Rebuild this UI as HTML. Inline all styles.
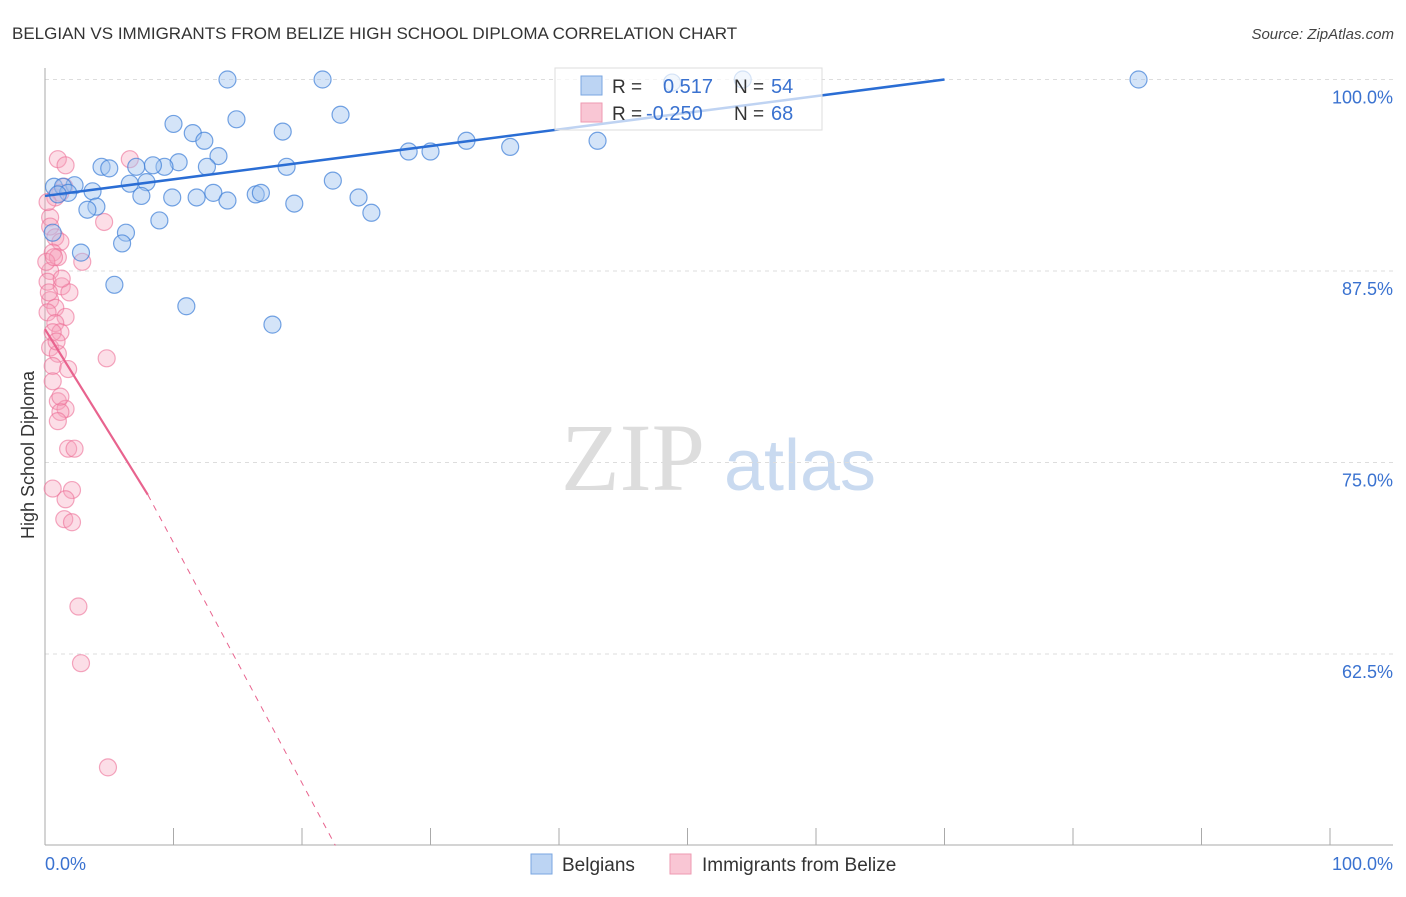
<!DOCTYPE html>
<html><head><meta charset="utf-8"><style>
body{margin:0;background:#fff;font-family:"Liberation Sans",sans-serif;}
</style></head><body>
<svg id="chart" width="1406" height="892" viewBox="0 0 1406 892" xmlns="http://www.w3.org/2000/svg" font-family="Liberation Sans, sans-serif">
<text x="12" y="39" font-size="17" fill="#333">BELGIAN VS IMMIGRANTS FROM BELIZE HIGH SCHOOL DIPLOMA CORRELATION CHART</text>
<text x="1394" y="39" font-size="15" fill="#444" text-anchor="end" font-style="italic">Source: ZipAtlas.com</text>
<text transform="translate(34,455) rotate(-90)" font-size="18" fill="#333" text-anchor="middle">High School Diploma</text>
<g>
<text x="633" y="490" font-size="96" fill="#ddd" font-family="Liberation Serif, serif" text-anchor="middle">ZIP</text>
<text x="800" y="490" font-size="72" fill="#c9daf0" text-anchor="middle">atlas</text>
</g>
<g id="grid"></g><g id="axes"></g><g id="pink"></g><g id="blue"></g><g id="trend"></g>
<g>
<rect x="555" y="68" width="267" height="62" fill="#fff" fill-opacity="0.7" stroke="#ddd"/>
<rect x="581" y="76" width="21" height="19" fill="#bcd4f3" stroke="#7aa6e0"/>
<rect x="581" y="103" width="21" height="19" fill="#f9c6d4" stroke="#ee9ab2"/>
<text x="612" y="93" font-size="19" fill="#333">R =</text>
<text x="663" y="93" font-size="20" fill="#3a72d0">0.517</text>
<text x="734" y="93" font-size="19" fill="#333">N =</text>
<text x="771" y="93" font-size="20" fill="#3a72d0">54</text>
<text x="612" y="120" font-size="19" fill="#333">R =</text>
<text x="646" y="120" font-size="20" fill="#3a72d0">-0.250</text>
<text x="734" y="120" font-size="19" fill="#333">N =</text>
<text x="771" y="120" font-size="20" fill="#3a72d0">68</text>
</g>
<g>
<rect x="531" y="854" width="21" height="20" fill="#bcd4f3" stroke="#7aa6e0"/>
<text x="562" y="871" font-size="19" fill="#333">Belgians</text>
<rect x="670" y="854" width="21" height="20" fill="#f9c6d4" stroke="#ee9ab2"/>
<text x="702" y="871" font-size="19" fill="#333">Immigrants from Belize</text>
</g>
</svg>
<script>
const yTicks=[100,87.5,75,62.5];
const yTickLabels=["100.0%","87.5%","75.0%","62.5%"];
const xTickLabels=["0.0%","100.0%"];
const blueX=[14.2,21.6,85.1,48.8,54.3,10.0,14.9,23.0,11.5,12.4,18.5,13.5,10.4,9.3,8.4,4.4,5.0,7.1,12.6,18.8,28.3,30.0,32.8,36.2,43.0,0.7,2.3,3.7,1.4,1.8,1.0,6.6,7.9,7.5,4.0,3.3,9.9,11.8,13.1,14.2,16.4,16.8,19.4,22.4,24.4,25.4,8.9,6.3,6.0,2.8,5.4,11.0,17.7,0.6];
const blueY=[100,100,100,99.8,100,97.1,97.4,97.7,96.5,96.0,96.6,95.0,94.6,94.3,94.4,94.3,94.2,94.3,94.3,94.3,95.3,95.3,96.0,95.6,96.0,93.0,93.1,92.7,93.0,92.6,92.5,93.2,93.3,92.4,91.7,91.5,92.3,92.3,92.6,92.1,92.5,92.6,91.9,93.4,92.3,91.3,90.8,90.0,89.3,88.7,86.6,85.2,84.0,90.0];
const pinkX=[1.0,1.6,6.6,1.5,1.2,0.8,0.4,0.4,4.6,0.8,1.2,0.6,1.0,2.9,0.4,0.2,1.3,1.9,0.4,0.8,0.2,1.6,0.8,1.2,0.4,1.0,4.8,0.6,1.8,0.6,1.0,1.6,1.2,1.0,1.8,2.3,0.6,2.1,1.6,1.5,2.1,2.6,2.8,4.9,0.2,0.1,0.3,0.6,0.9,1.2,0.7,1.3];
const pinkY=[94.8,94.4,94.8,93.0,92.6,92.3,91.0,90.4,90.7,89.7,89.4,88.7,88.4,88.1,87.5,86.8,86.5,86.1,85.6,85.1,84.8,84.5,84.1,83.5,82.5,82.1,81.8,81.3,81.1,80.3,79.0,78.5,78.3,77.7,75.9,75.9,73.3,73.2,72.6,71.3,71.1,65.6,61.9,55.1,92.0,88.1,86.1,83.5,82.9,79.3,88.4,87.0];
const blueTrend=[[0,92.4],[70,100]];
const pinkSolid=[[0,83.7],[8,72.9]];
const pinkDash=[[8,72.9],[22.6,50]];
const NS="http://www.w3.org/2000/svg";
const X=p=>45+p*12.85, Y=v=>79.5+(100-v)*15.32;
function mk(tag,attrs,parent){const e=document.createElementNS(NS,tag);for(const k in attrs)e.setAttribute(k,attrs[k]);document.getElementById(parent).appendChild(e);return e;}
yTicks.forEach((t,i)=>{
 const l=mk('line',{x1:45,x2:1393,y1:Y(t),y2:Y(t),stroke:'#ddd','stroke-dasharray':'4,4'},'grid');
 
 
 const tx=mk('text',{x:1393,y:Y(t)+24,'font-size':18,fill:'#3a72d0','text-anchor':'end'},'grid');
 tx.textContent=yTickLabels[i];
 
 
});
const ax=mk('line',{x1:45,x2:1393,y1:845,y2:845,stroke:'#aaa'},'axes');


const ay=mk('line',{x1:45,x2:45,y1:68,y2:845,stroke:'#aaa'},'axes');


for(let i=0;i<=10;i++){const t=mk('line',{x1:X(i*10),x2:X(i*10),y1:828,y2:845,stroke:'#aaa'},'axes');
 
 }
[[0,'start',45],[100,'end',1393]].forEach((d,i)=>{const t=mk('text',{x:d[2],y:870,'font-size':18,fill:'#3a72d0','text-anchor':d[1]},'axes');t.textContent=xTickLabels[i];
 
 });
pinkX.forEach((x,i)=>{const c=mk('circle',{cx:X(x),cy:Y(pinkY[i]),r:8.5,fill:'rgba(246,160,186,0.35)',stroke:'rgba(236,110,150,0.6)','stroke-width':1.2},'pink');
 
 });
blueX.forEach((x,i)=>{const c=mk('circle',{cx:X(x),cy:Y(blueY[i]),r:8.5,fill:'rgba(160,196,240,0.45)',stroke:'rgba(60,125,215,0.7)','stroke-width':1.2},'blue');
 
 });
const bt=mk('polyline',{points:blueTrend.map(p=>X(p[0])+','+Y(p[1])).join(' '),fill:'none',stroke:'#2a6dd4','stroke-width':2.5},'trend');


const ps=mk('polyline',{points:pinkSolid.map(p=>X(p[0])+','+Y(p[1])).join(' '),fill:'none',stroke:'#e8638e','stroke-width':2.2},'trend');


const pd=mk('polyline',{points:pinkDash.map(p=>X(p[0])+','+Y(p[1])).join(' '),fill:'none',stroke:'#e8638e','stroke-width':1,'stroke-dasharray':'6,6'},'trend');


</script>
</body></html>
